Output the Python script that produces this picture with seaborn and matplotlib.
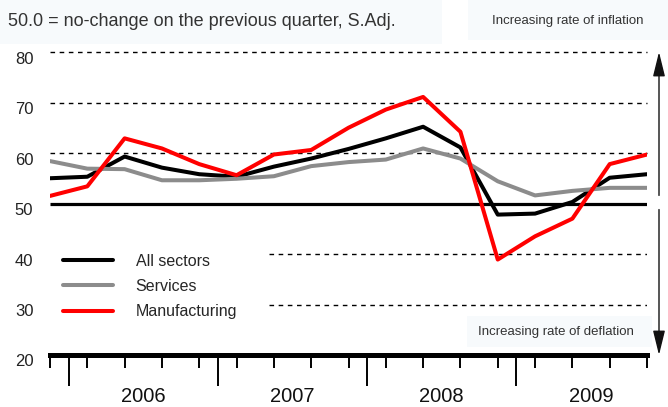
import numpy as np
import pandas as pd
import matplotlib
matplotlib.use("Agg")
import matplotlib.pyplot as plt
from matplotlib.patches import Rectangle
from matplotlib.transforms import ScaledTranslation
import seaborn as sns

# Quarterly index, 2005 Q4 .. 2009 Q4 (50 = no change on previous quarter)
quarters = list(range(17))
all_sectors = [55.0, 55.3, 59.3, 57.1, 55.8, 55.3, 57.3, 58.9, 60.8,
               62.9, 65.2, 61.1, 47.8, 48.0, 50.3, 55.1, 55.8]
services = [58.4, 56.9, 56.8, 54.6, 54.6, 54.9, 55.4, 57.4, 58.2,
            58.7, 60.9, 58.9, 54.4, 51.6, 52.5, 53.1, 53.1]
manufacturing = [51.5, 53.4, 62.9, 60.9, 57.8, 55.6, 59.7, 60.6, 65.0,
                 68.6, 71.1, 64.2, 38.9, 43.5, 47.0, 57.8, 59.7]
series_names = ["All sectors", "Services", "Manufacturing"]
series_colors = ["#000000", "#8c8c8c", "#ff0000"]
years = ["2006", "2007", "2008", "2009"]
year_centres = [2.5, 6.5, 10.5, 14.5]
year_bounds = [0.5, 4.5, 8.5, 12.5]
y_ticks = [20, 30, 40, 50, 60, 70, 80]
full_grid = [60, 70, 80]
short_grid = [30, 40]

sns.set_theme(style="white")
plt.rcParams["font.family"] = ["Liberation Sans", "DejaVu Sans"]

df = pd.DataFrame({
    "quarter": quarters * 3,
    "value": all_sectors + services + manufacturing,
    "series": np.repeat(series_names, len(quarters)),
})

W, H = 668, 407
fig = plt.figure(figsize=(W / 100, H / 100), dpi=100)


def fx(px):
    return px / W


def fy(py):
    return 1 - py / H


ax = fig.add_axes([fx(50), fy(355), fx(647) - fx(50), fy(52) - fy(355)])
ax.patch.set_facecolor("none")

# pale caption panels
for x0, y0, x1, y1 in [(0, 0, 442, 44), (468, 0, 668, 40), (467, 316, 652, 347)]:
    fig.add_artist(Rectangle((fx(x0), fy(y1)), fx(x1) - fx(x0), fy(y0) - fy(y1),
                             transform=fig.transFigure, facecolor="#f7fafc",
                             edgecolor="none", zorder=-1))

# reference lines
dash = (0, (3.3, 3.3))
for v in full_grid:
    ax.axhline(v, color="black", lw=1.0, ls=dash, clip_on=False, zorder=1)
for v in short_grid:
    ax.axhline(v, xmin=(269 - 50) / 597, color="black", lw=1.0, ls=dash, zorder=1)
ax.axhline(50, color="black", lw=2.3, zorder=1.5, solid_capstyle="butt")

sns.lineplot(data=df, x="quarter", y="value", hue="series", hue_order=series_names,
             palette=series_colors, linewidth=2.9, ax=ax, zorder=3)

ax.set_xlim(0, 16)
ax.set_ylim(20, 80)
ax.set_xlabel("")
ax.set_ylabel("")
for s in ["top", "right", "left"]:
    ax.spines[s].set_visible(False)
ax.spines["bottom"].set_linewidth(3.6)
ax.spines["bottom"].set_color("black")

ax.set_xticks(quarters)
ax.set_xticks(year_bounds, minor=True)
ax.tick_params(axis="x", which="major", bottom=True, length=9.5, width=1.4,
               color="black", labelbottom=False)
ax.tick_params(axis="x", which="minor", bottom=True, length=22, width=1.4,
               color="black", labelbottom=False)

ax.set_yticks(y_ticks)
ax.tick_params(axis="y", left=False, length=0, pad=12, labelsize=12, labelcolor="#222222")
shift = ScaledTranslation(0, -0.055, fig.dpi_scale_trans)
for lab in ax.get_yticklabels():
    lab.set_transform(lab.get_transform() + shift)

trans = ax.get_xaxis_transform()
for xc, yr in zip(year_centres, years):
    ax.text(xc, -42 / 303, yr, transform=trans, ha="center", va="center",
            fontsize=14.5, color="#111111")

handles, labels = ax.get_legend_handles_labels()
ax.legend(handles, labels, loc="upper left",
          bbox_to_anchor=((63 - 50) / 597, (355 - 254) / 303),
          frameon=False, borderpad=0, borderaxespad=0, handlelength=3.1,
          handletextpad=1.45, labelspacing=0.63,
          prop={"size": 11.5})

# captions
fig.text(fx(8), fy(21), "50.0 = no-change on the previous quarter, S.Adj.",
         ha="left", va="center", fontsize=13, color="#333333")
fig.text(fx(492), fy(21), "Increasing rate of inflation",
         ha="left", va="center", fontsize=9.5, color="#333333")
fig.text(fx(478), fy(332), "Increasing rate of deflation",
         ha="left", va="center", fontsize=9.5, color="#333333")

# direction arrows at the right edge
ax_x = (659 - 50) / 597
arrow_kw = dict(arrowstyle="-|>,head_length=1.5,head_width=0.37", mutation_scale=10,
                color="#111111", lw=1.0, shrinkA=0, shrinkB=0)
ax.annotate("", xy=(ax_x, 80), xytext=(ax_x, 51.6),
            xycoords=("axes fraction", "data"), textcoords=("axes fraction", "data"),
            arrowprops=arrow_kw, annotation_clip=False)
ax.annotate("", xy=(ax_x, 20), xytext=(ax_x, 48.8),
            xycoords=("axes fraction", "data"), textcoords=("axes fraction", "data"),
            arrowprops=arrow_kw, annotation_clip=False)

fig.savefig("out.png", dpi=100)
